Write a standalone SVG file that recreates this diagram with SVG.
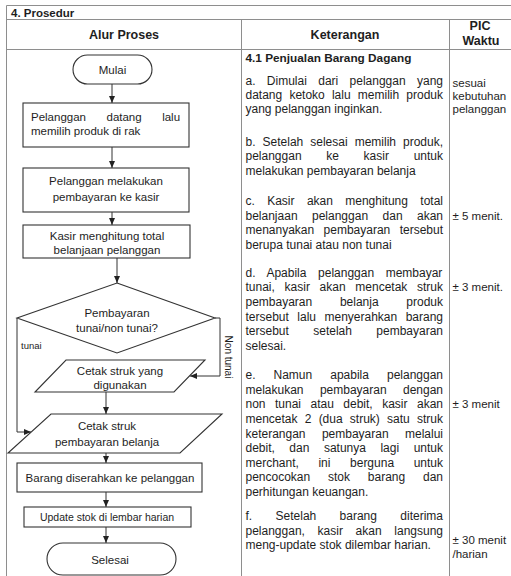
<svg xmlns="http://www.w3.org/2000/svg" width="511" height="576" viewBox="0 0 511 576">
  <defs>
    <style>
      .t{font-family:"Liberation Sans",Arial,sans-serif;fill:#1e1e1e;stroke:none}
      .b{font-weight:bold}
      .k{font-size:12px}
      .f{font-size:11.5px}
      .p{font-size:11.5px}
      .c{text-anchor:middle}
      .grid{fill:none;stroke:#8e8e8e;stroke-width:1}
      .shape{fill:#fff;stroke:#333;stroke-width:1.1}
      .conn{fill:none;stroke:#333;stroke-width:1}
    </style>
    <marker id="arr" viewBox="0 0 8 8" refX="8" refY="4" markerWidth="7" markerHeight="7" markerUnits="userSpaceOnUse" orient="auto">
      <path d="M0,0.6 L8,4 L0,7.4 Z" fill="#222" stroke="none"/>
    </marker>
  </defs>

  <rect width="511" height="576" fill="#fff"/>

  <!-- table frame -->
  <g id="table">
    <path class="grid" d="M6.5,5.5 H511 M6.5,19.5 H511 M6.5,49.5 H511 M6.5,5.5 V576 M241.5,19.5 V576 M449.5,19.5 V576"/>
    <text class="t b" x="11" y="16.5" font-size="11.5">4. Prosedur</text>
    <text class="t b c" x="124" y="39" font-size="12.5">Alur Proses</text>
    <text class="t b c" x="345" y="39" font-size="12.5">Keterangan</text>
    <text class="t b c" x="480" y="30" font-size="12.5">PIC</text>
    <text class="t b c" x="481" y="45" font-size="12.5">Waktu</text>
  </g>

  <!-- connectors -->
  <g id="connectors">
    <g class="conn">
      <path d="M112,84 V103" marker-end="url(#arr)"/>
      <path d="M112,147 V168" marker-end="url(#arr)"/>
      <path d="M112,212 V225" marker-end="url(#arr)"/>
      <path d="M117,258 V283" marker-end="url(#arr)"/>
      <path d="M106,392 V414" marker-end="url(#arr)"/>
      <path d="M17,318 V432 H31" marker-end="url(#arr)"/>
      <path d="M215,318 H220 V376 H190" marker-end="url(#arr)"/>
      <path d="M106,453 V463" marker-end="url(#arr)"/>
      <path d="M106,492 V507" marker-end="url(#arr)"/>
      <path d="M106,527 V543" marker-end="url(#arr)"/>
    </g>
    <text class="t" x="21" y="349" font-size="9.5">tunai</text>
    <text class="t c" transform="translate(225,357) rotate(90)" font-size="10">Non tunai</text>
  </g>

  <!-- flowchart nodes -->
  <g id="mulai">
    <rect class="shape" x="73" y="55" width="79" height="29" rx="14.5"/>
    <text class="t f c" x="112.5" y="74">Mulai</text>
  </g>
  <g id="pilih-produk">
    <rect class="shape" x="23" y="103" width="166" height="44"/>
    <text class="t f" x="31" y="121" word-spacing="17.3">Pelanggan datang lalu</text>
    <text class="t f" x="31" y="135">memilih produk di rak</text>
  </g>
  <g id="bayar-kasir">
    <rect class="shape" x="23" y="168" width="166" height="44"/>
    <text class="t f c" x="106" y="185">Pelanggan melakukan</text>
    <text class="t f c" x="106" y="201">pembayaran ke kasir</text>
  </g>
  <g id="hitung-total">
    <rect class="shape" x="23" y="225" width="167" height="33"/>
    <text class="t f c" x="107" y="240">Kasir menghitung total</text>
    <text class="t f c" x="107" y="254">belanjaan pelanggan</text>
  </g>
  <g id="jenis-bayar">
    <path class="shape" d="M117,283 L215,318 L117,353 L17,318 Z"/>
    <text class="t f c" x="117" y="317">Pembayaran</text>
    <text class="t f c" x="117" y="332">tunai/non tunai?</text>
  </g>
  <g id="struk-digunakan">
    <path class="shape" d="M66,360 H205 L174,392 H35 Z"/>
    <text class="t f c" x="120" y="375">Cetak struk yang</text>
    <text class="t f c" x="120" y="389">digunakan</text>
  </g>
  <g id="struk-belanja">
    <path class="shape" d="M51,414 H222 L180,453 H8 Z"/>
    <text class="t f c" x="107" y="430">Cetak struk</text>
    <text class="t f c" x="107" y="446">pembayaran belanja</text>
  </g>
  <g id="serah-barang">
    <rect class="shape" x="17" y="463" width="185" height="29"/>
    <text class="t f c" x="110" y="482">Barang diserahkan ke pelanggan</text>
  </g>
  <g id="update-stok">
    <rect class="shape" x="24" y="507" width="167" height="20"/>
    <text class="t c" x="107" y="521" font-size="10.5">Update stok di lembar harian</text>
  </g>
  <g id="selesai">
    <rect class="shape" x="47" y="543" width="129" height="32" rx="16"/>
    <text class="t f c" x="110" y="564">Selesai</text>
  </g>

  <!-- description column -->
  <g id="keterangan" class="t k">
    <text class="b" x="245.5" y="62" font-size="11.8">4.1 Penjualan Barang Dagang</text>

    <text x="245.5" y="85" word-spacing="8.02">a. Dimulai dari pelanggan yang</text>
    <text x="245.5" y="99" word-spacing="3.86">datang ketoko lalu memilih produk</text>
    <text x="245.5" y="113">yang pelanggan inginkan.</text>

    <text x="245.5" y="146" word-spacing="3.69">b. Setelah selesai memilih produk,</text>
    <text x="245.5" y="160" word-spacing="21.36">pelanggan ke kasir untuk</text>
    <text x="245.5" y="175">melakukan pembayaran belanja</text>

    <text x="245.5" y="205" word-spacing="9.02">c. Kasir akan menghitung total</text>
    <text x="245.5" y="220" word-spacing="11.13">belanjaan pelanggan dan akan</text>
    <text x="245.5" y="234" word-spacing="6.04">menanyakan pembayaran tersebut</text>
    <text x="245.5" y="249">berupa tunai atau non tunai</text>

    <text x="245.5" y="277" word-spacing="8.25">d. Apabila pelanggan membayar</text>
    <text x="245.5" y="291" word-spacing="6.36">tunai, kasir akan mencetak struk</text>
    <text x="245.5" y="306" word-spacing="24.38">pembayaran belanja produk</text>
    <text x="245.5" y="321" word-spacing="5.14">tersebut lalu menyerahkan barang</text>
    <text x="245.5" y="335" word-spacing="21.04">tersebut setelah pembayaran</text>
    <text x="245.5" y="350">selesai.</text>

    <text x="245.5" y="379" word-spacing="14.69">e. Namun apabila pelanggan</text>
    <text x="245.5" y="394" word-spacing="13.04">melakukan pembayaran dengan</text>
    <text x="245.5" y="408" word-spacing="6.15">non tunai atau debit, kasir akan</text>
    <text x="245.5" y="423" word-spacing="3.88">mencetak 2 (dua struk) satu struk</text>
    <text x="245.5" y="438" word-spacing="13.04">keterangan pembayaran melalui</text>
    <text x="245.5" y="452" word-spacing="11.18">debit, dan satunya lagi untuk</text>
    <text x="245.5" y="467" word-spacing="16.25">merchant, ini berguna untuk</text>
    <text x="245.5" y="481" word-spacing="14.47">pencocokan stok barang dan</text>
    <text x="245.5" y="496">perhitungan keuangan.</text>

    <text x="245.5" y="520" word-spacing="20.03">f. Setelah barang diterima</text>
    <text x="245.5" y="535" word-spacing="9.36">pelanggan, kasir akan langsung</text>
    <text x="245.5" y="549">meng-update stok dilembar harian.</text>
  </g>

  <!-- time column -->
  <g id="pic-waktu" class="t p">
    <text x="452.5" y="87">sesuai</text>
    <text x="452.5" y="100">kebutuhan</text>
    <text x="452.5" y="113">pelanggan</text>
    <text x="452.5" y="220">± 5 menit.</text>
    <text x="452.5" y="291">± 3 menit.</text>
    <text x="452.5" y="408">± 3 menit</text>
    <text x="452.5" y="544">± 30 menit</text>
    <text x="452.5" y="558">/harian</text>
  </g>
</svg>
